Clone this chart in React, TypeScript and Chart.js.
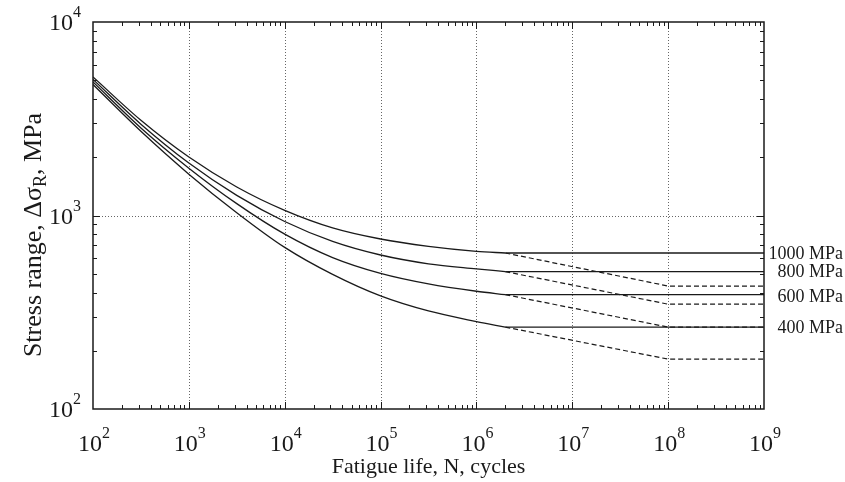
import React, { useEffect, useRef } from 'react';
import { Chart, registerables } from 'chart.js';

Chart.register(...registerables);

// Fatigue life (cycles) at which the S-N curves were read
const CYCLES = [100, 316, 1000, 3160, 10000, 31600, 100000, 316000, 1000000, 2000000];
// Stress range (MPa) of each solid curve
const S_1000 = [5200, 3105, 2005, 1404, 1063, 863, 756, 693, 653, 640];
const S_800 = [5050, 2963, 1866, 1270, 931, 735, 625, 563, 530, 513];
const S_600 = [4900, 2836, 1757, 1152, 801, 606, 502, 443, 406, 390];
const S_400 = [4750, 2724, 1636, 1034, 684, 496, 384, 321, 283, 265];

// Horizontal (solid) plateaus
const FLAT_CYCLES = [2000000, 1000000000];
const PLATEAU = [640, 513, 390, 265];

// Dashed branches
const DASH_CYCLES = [2000000, 100000000, 1000000000];
const D_1000 = [640, 432, 432];
const D_800 = [513, 348, 348];
const D_600 = [390, 265, 265];
const D_400 = [265, 181, 181];

const CURVE_LABELS = ['1000 MPa', '800 MPa', '600 MPa', '400 MPa'];
const X_EXPONENTS = [2, 3, 4, 5, 6, 7, 8, 9];
const Y_EXPONENTS = [2, 3, 4];
const X_TITLE = 'Fatigue life, N, cycles';
const Y_TITLE_PARTS = ['Stress range, Δσ', 'R', ', MPa'];

const FONT = "'Liberation Serif', 'Times New Roman', serif";
const INK = '#1a1a1a';

const pts = (xs: number[], ys: number[]) => xs.map((x, i) => ({ x, y: ys[i] }));

const decorPlugin = {
  id: 'decor',
  beforeDatasetsDraw(chart: any) {
    const { ctx, chartArea: a, scales } = chart;
    const xs = scales.x, ys = scales.y;
    ctx.save();
    ctx.strokeStyle = '#666';
    ctx.lineWidth = 1;
    ctx.setLineDash([1, 2]);
    for (let e = 3; e <= 8; e++) {
      const px = Math.round(xs.getPixelForValue(Math.pow(10, e))) + 0.5;
      ctx.beginPath();
      ctx.moveTo(px, a.top);
      ctx.lineTo(px, a.bottom);
      ctx.stroke();
    }
    const py = Math.round(ys.getPixelForValue(1000)) + 0.5;
    ctx.beginPath();
    ctx.moveTo(a.left, py);
    ctx.lineTo(a.right, py);
    ctx.stroke();
    ctx.restore();
  },
  afterDatasetsDraw(chart: any) {
    const { ctx, chartArea: a, scales } = chart;
    const xs = scales.x, ys = scales.y;
    ctx.save();
    ctx.setLineDash([]);
    ctx.strokeStyle = INK;
    ctx.lineWidth = 1;
    // ticks x
    for (let e = 2; e <= 8; e++) {
      for (let m = 1; m <= 9; m++) {
        if (e === 2 && m === 1) continue;
        const px = Math.round(xs.getPixelForValue(m * Math.pow(10, e))) + 0.5;
        const len = m === 1 ? 7 : 4;
        ctx.beginPath();
        ctx.moveTo(px, a.bottom);
        ctx.lineTo(px, a.bottom - len);
        ctx.moveTo(px, a.top);
        ctx.lineTo(px, a.top + len);
        ctx.stroke();
      }
    }
    // ticks y
    for (let e = 2; e <= 3; e++) {
      for (let m = 1; m <= 9; m++) {
        if (e === 2 && m === 1) continue;
        const py = Math.round(ys.getPixelForValue(m * Math.pow(10, e))) + 0.5;
        const len = m === 1 ? 7 : 4;
        ctx.beginPath();
        ctx.moveTo(a.left, py);
        ctx.lineTo(a.left + len, py);
        ctx.moveTo(a.right, py);
        ctx.lineTo(a.right - len, py);
        ctx.stroke();
      }
    }
    // frame
    ctx.lineWidth = 1.5;
    ctx.strokeRect(a.left, a.top, a.right - a.left, a.bottom - a.top);

    ctx.fillStyle = INK;
    const big = `24px ${FONT}`;
    const small = `16px ${FONT}`;
    const powWidth = (exp: number) => {
      ctx.font = big;
      const w1 = ctx.measureText('10').width;
      ctx.font = small;
      const w2 = ctx.measureText(String(exp)).width;
      return [w1, w2];
    };
    ctx.textAlign = 'left';
    ctx.textBaseline = 'alphabetic';
    // x tick labels
    X_EXPONENTS.forEach((exp) => {
      const cx = xs.getPixelForValue(Math.pow(10, exp));
      const [w1, w2] = powWidth(exp);
      const x0 = cx - (w1 + w2) / 2 + 1;
      ctx.font = big;
      ctx.fillText('10', x0, a.bottom + 42);
      ctx.font = small;
      ctx.fillText(String(exp), x0 + w1, a.bottom + 29);
    });
    // y tick labels
    Y_EXPONENTS.forEach((exp) => {
      const cy = ys.getPixelForValue(Math.pow(10, exp));
      const [w1, w2] = powWidth(exp);
      const x0 = a.left - 12 - w1 - w2;
      ctx.font = big;
      ctx.fillText('10', x0, cy + 8);
      ctx.font = small;
      ctx.fillText(String(exp), x0 + w1, cy - 5);
    });
    // x title
    ctx.font = `22px ${FONT}`;
    ctx.textAlign = 'center';
    ctx.fillText(X_TITLE, (a.left + a.right) / 2, a.bottom + 64);
    // y title
    ctx.save();
    ctx.translate(41, 235);
    ctx.rotate(-Math.PI / 2);
    ctx.textAlign = 'left';
    const f1 = `26px ${FONT}`, f2 = `18px ${FONT}`;
    ctx.font = f1;
    const wa = ctx.measureText(Y_TITLE_PARTS[0]).width;
    const wc = ctx.measureText(Y_TITLE_PARTS[2]).width;
    ctx.font = f2;
    const wb = ctx.measureText(Y_TITLE_PARTS[1]).width;
    let tx = -(wa + wb + wc) / 2;
    ctx.font = f1;
    ctx.fillText(Y_TITLE_PARTS[0], tx, 0);
    tx += wa;
    ctx.font = f2;
    ctx.fillText(Y_TITLE_PARTS[1], tx, 5);
    tx += wb;
    ctx.font = f1;
    ctx.fillText(Y_TITLE_PARTS[2], tx, 0);
    ctx.restore();
    // curve labels
    ctx.font = `18px ${FONT}`;
    ctx.textAlign = 'right';
    ctx.textBaseline = 'middle';
    CURVE_LABELS.forEach((lab, i) => {
      const py = ys.getPixelForValue(PLATEAU[i]);
      ctx.fillText(lab, 843, py + 1 + (i === 2 ? 2 : 0));
    });
    ctx.restore();
  },
};

export default function App() {
  const ref = useRef<HTMLCanvasElement | null>(null);
  useEffect(() => {
    if (!ref.current) return;
    const line = (xs: number[], d: number[], dash: number[]) => ({
      data: pts(xs, d),
      borderColor: INK,
      borderWidth: 1.3,
      borderDash: dash,
      pointRadius: 0,
      fill: false,
      cubicInterpolationMode: 'monotone' as const,
    });
    const curves = [S_1000, S_800, S_600, S_400].map((s) => line(CYCLES, s, []));
    const flats = PLATEAU.map((p) => line(FLAT_CYCLES, [p, p], []));
    const dashes = [D_1000, D_800, D_600, D_400].map((d) => ({ ...line(DASH_CYCLES, d, [5, 3]), borderWidth: 1.2, cubicInterpolationMode: 'default', tension: 0 }));
    const chart = new Chart(ref.current, {
      type: 'line',
      data: { datasets: [...dashes, ...flats, ...curves] as any },
      options: {
        animation: false,
        responsive: true,
        maintainAspectRatio: false,
        layout: { padding: { left: 93, right: 81, top: 22, bottom: 73 } },
        plugins: { legend: { display: false }, tooltip: { enabled: false } },
        scales: {
          x: { type: 'logarithmic', min: 100, max: 1e9, display: false },
          y: { type: 'logarithmic', min: 100, max: 10000, display: false },
        },
      } as any,
      plugins: [decorPlugin],
    });
    return () => chart.destroy();
  }, []);
  return (
    <div style={{ position: 'absolute', left: 0, top: 0, width: 845, height: 482, background: '#fff' }}>
      <canvas ref={ref} />
    </div>
  );
}
